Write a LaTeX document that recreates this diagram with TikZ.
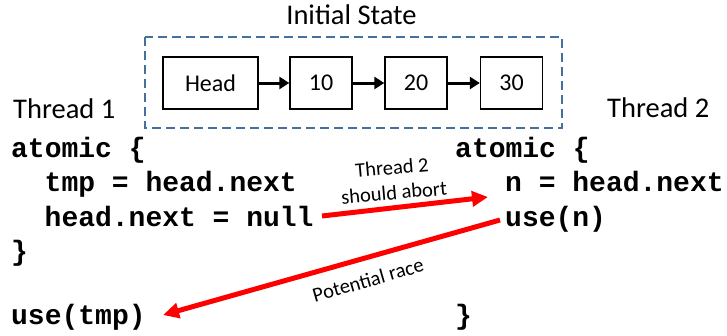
\documentclass[tikz,border=0pt]{standalone}
\usepackage{fontspec}
\setmainfont{Carlito}
\setmonofont{Liberation Mono}
\usetikzlibrary{arrows.meta}
\definecolor{frameblue}{HTML}{41719C}
\definecolor{racered}{HTML}{FF0000}
\tikzset{
  listbox/.style={draw=black, line width=1.4pt, minimum height=52pt, inner sep=0pt,
                  font=\fontsize{24}{28}\selectfont},
  linkarrow/.style={line width=3pt, -{Triangle[length=10pt,width=12pt]}},
  codeline/.style={anchor=base west, inner sep=0pt, font=\fontsize{28}{33}\ttfamily\bfseries},
  heading/.style={inner sep=0pt, font=\fontsize{28.5}{32}\selectfont},
  redarrow/.style={draw=racered, line width=5pt, -{Triangle[length=16pt,width=15pt]}},
  note/.style={inner sep=0pt, align=center, font=\fontsize{20.5}{25}\selectfont},
}
\begin{document}
\begin{tikzpicture}[x=1pt,y=-1pt]
\useasboundingbox (0,0) rectangle (727,335);

% initial state of the list
\node[heading, anchor=base] (title) at (351.5,24) {Initial State};
\draw[frameblue, line width=1.5pt, dash pattern=on 9pt off 5pt] (145,37) rectangle (562,128);
\node[listbox, minimum width=95pt] (head) at (210.5,83) {Head};
\node[listbox, minimum width=62pt] (n10) at (321,83) {10};
\node[listbox, minimum width=62pt] (n20) at (416,83) {20};
\node[listbox, minimum width=62pt] (n30) at (511.5,83) {30};
\draw[linkarrow] (head) -- (n10);
\draw[linkarrow] (n10) -- (n20);
\draw[linkarrow] (n20) -- (n30);

% thread 1
\node[heading, anchor=base west] (th1) at (13,118) {Thread 1};
\node[codeline] (a1) at (11,157) {atomic \{};
\node[codeline] (a2) at (44.5,191.5) {tmp = head.next};
\node[codeline] (a3) at (44.5,226) {head.next = null};
\node[codeline] (a4) at (11,260.5) {\}};
\node[codeline] (a5) at (11,324) {use(tmp)};

% thread 2
\node[heading, anchor=base west] (th2) at (607,117) {Thread 2};
\node[codeline] (b1) at (455,157) {atomic \{};
\node[codeline] (b2) at (505,191.5) {n = head.next};
\node[codeline] (b3) at (505,226) {use(n)};
\node[codeline] (b4) at (455,324) {\}};

% conflicts between the threads
\coordinate (abortfrom) at (322,216);
\coordinate (abortto) at (488,197);
\draw[redarrow] (abortfrom) -- (abortto);
\node[note, rotate=5] (abortlbl) at (393,180) {Thread 2\\should abort};

\coordinate (racefrom) at (500,220);
\coordinate (raceto) at (163,315);
\draw[redarrow] (racefrom) -- (raceto);
\node[note, rotate=16] (racelbl) at (368,280) {Potential race};
\end{tikzpicture}
\end{document}
